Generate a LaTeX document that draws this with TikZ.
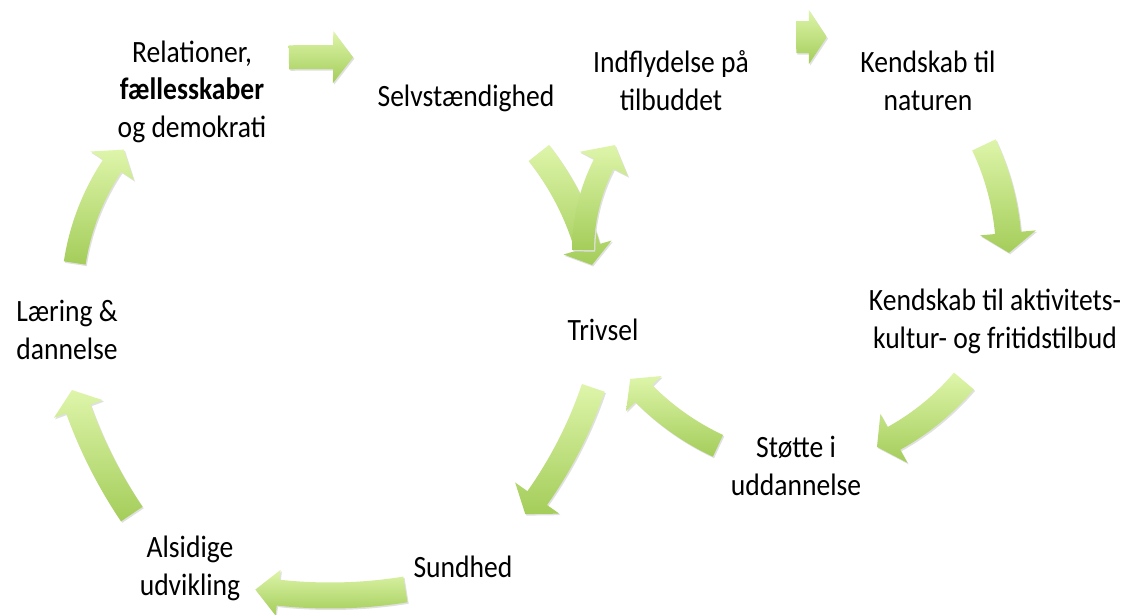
\documentclass[tikz,border=0pt]{standalone}
\usepackage{fontspec}
\setmainfont{Carlito}[FakeStretch=0.89]
\definecolor{arrowtop}{RGB}{222,245,170}
\definecolor{arrowbottom}{RGB}{164,205,90}
\tikzset{
  arrowfill/.style={top color=arrowtop, bottom color=arrowbottom},
  arrowshadow/.style={fill=black!12},
  cyclelabel/.style={font=\fontsize{31}{37.5}\selectfont, align=center, inner sep=0pt, anchor=base},
}
% centre x, centre y, radius, tail angle, tip angle, body half width, head half width, head length
\newcommand{\cyclearrow}[8]{%
  \pgfmathsetmacro{\cahb}{#5-sign(#5-#4)*#8/#3*180/pi}%
  \pgfmathsetmacro{\cabo}{#3+#6}%
  \pgfmathsetmacro{\cabi}{#3-#6}%
  \pgfmathsetmacro{\caho}{#3+#7}%
  \pgfmathsetmacro{\cahi}{#3-#7}%
  \def\capath{(#4:\cabo) arc[start angle=#4, end angle=\cahb, radius=\cabo]
    -- (\cahb:\caho) -- (#5:#3) -- (\cahb:\cahi) -- (\cahb:\cabi)
    arc[start angle=\cahb, end angle=#4, radius=\cabi] -- cycle}%
  \begin{scope}[shift={(#1,#2)}]
    \fill[arrowshadow, shift={(1.2,1.5)}] \capath;
    \shade[arrowfill] \capath;
  \end{scope}}

\begin{document}
\begin{tikzpicture}[x=1pt, y=-1pt]
      \path[use as bounding box, fill=white] (0,0) rectangle (1133,614);

      % left cycle
      \cyclearrow{321}{2057}{2000}{269.08}{270.92}{12}{26}{20}
      \cyclearrow{321}{325}{277.6}{321.7}{347.5}{13}{25}{18}
      \cyclearrow{186}{250}{430}{18.7}{37.9}{12}{27}{20}
      \cyclearrow{330}{123.5}{472}{80.8}{99.1}{13}{23}{23}
      \cyclearrow{527}{247}{477}{145.95}{162.55}{13}{26}{20}
      \cyclearrow{313}{299}{241}{188.6}{218.3}{11}{26}{20}

      % right cycle
      \cyclearrow{811.5}{2037}{2000}{269.56}{270.44}{16}{27}{18}
      \cyclearrow{750}{256}{259}{-25.4}{-0.7}{13}{28}{20}
      \cyclearrow{772.5}{218.7}{251}{40.3}{65.4}{13}{28}{19}
      \cyclearrow{827}{212}{258}{115}{139.7}{12}{25}{20}
      \cyclearrow{775}{251}{192}{180.3}{213.5}{11}{27}{22}

      % anchor=base sits on the last line
      \node[cyclelabel] (relation) at (192,137) {Relationer,\\\textbf{fællesskaber}\\og demokrati};
      \node[cyclelabel] (selv) at (466,106) {Selvstændighed};
      \node[cyclelabel] (indfly) at (671,110) {Indflydelse på\\tilbuddet};
      \node[cyclelabel] (natur) at (928,110) {Kendskab til\\naturen};
      \node[cyclelabel] (aktiv) at (995,348) {Kendskab til aktivitets-\\kultur- og fritidstilbud};
      \node[cyclelabel] (trivsel) at (603,340) {Trivsel};
      \node[cyclelabel] (stoette) at (796,495) {Støtte i\\uddannelse};
      \node[cyclelabel] (sundhed) at (463,577) {Sundhed};
      \node[cyclelabel] (alsidig) at (190,595) {Alsidige\\udvikling};
      \node[cyclelabel] (laering) at (67,359) {Læring \&\\dannelse};
\end{tikzpicture}
\end{document}
